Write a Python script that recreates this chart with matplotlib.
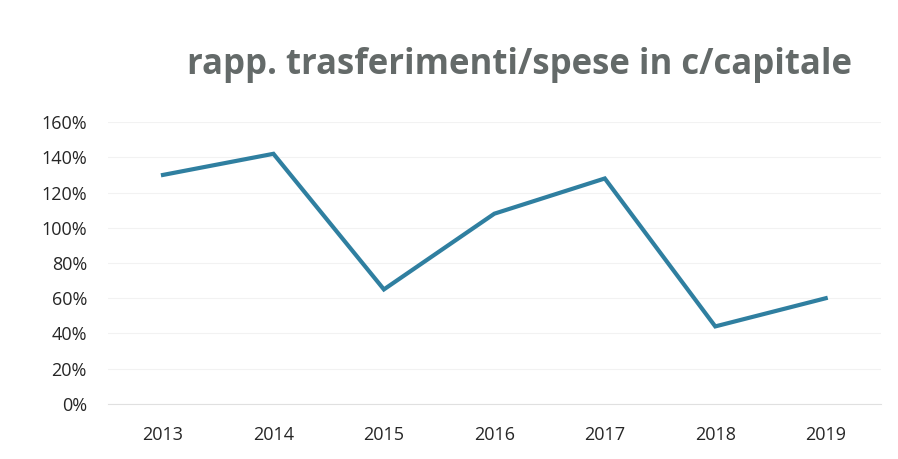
#line chart of transfer/capital expenditure ratio
import matplotlib
matplotlib.use('Agg')
import matplotlib.pyplot as plt
from matplotlib.ticker import FuncFormatter

years = ['2013', '2014', '2015', '2016', '2017', '2018', '2019']
ratio = [1.30, 1.42, 0.65, 1.08, 1.28, 0.44, 0.60]
y_ticks = [0, 0.2, 0.4, 0.6, 0.8, 1.0, 1.2, 1.4, 1.6]


def main():
    plt.rcParams['font.family'] = ['Open Sans', 'DejaVu Sans']
    fig = plt.figure(figsize=(8.98, 4.59), dpi=100)
    ax = fig.add_axes([0.120, 0.120, 0.861, 0.614])

    x = range(len(years))
    ax.plot(x, ratio, color='#2f7fa0', linewidth=3.0, solid_joinstyle='miter')

    ax.set_xlim(-0.5, len(years) - 0.5)
    ax.set_ylim(0, 1.6)
    ax.set_xticks(list(x))
    ax.set_xticklabels(years)
    ax.set_yticks(y_ticks)
    ax.yaxis.set_major_formatter(FuncFormatter(lambda v, _: f'{v * 100:.0f}%'))

    ax.grid(axis='y', color='#f2f2f2', linewidth=0.8)
    ax.set_axisbelow(True)
    for side in ['top', 'right', 'left']:
        ax.spines[side].set_visible(False)
    ax.spines['bottom'].set_color('#e0e0e0')
    ax.tick_params(axis='both', length=0, labelsize=13, colors='#262626')
    ax.tick_params(axis='x', pad=16)
    ax.tick_params(axis='y', pad=15)

    fig.text(0.579, 0.858, 'rapp. trasferimenti/spese in c/capitale',
             ha='center', va='center', fontsize=25, fontweight='bold', color='#646a69')

    fig.savefig('out.png', dpi=100)


if __name__ == "__main__":
    main()
